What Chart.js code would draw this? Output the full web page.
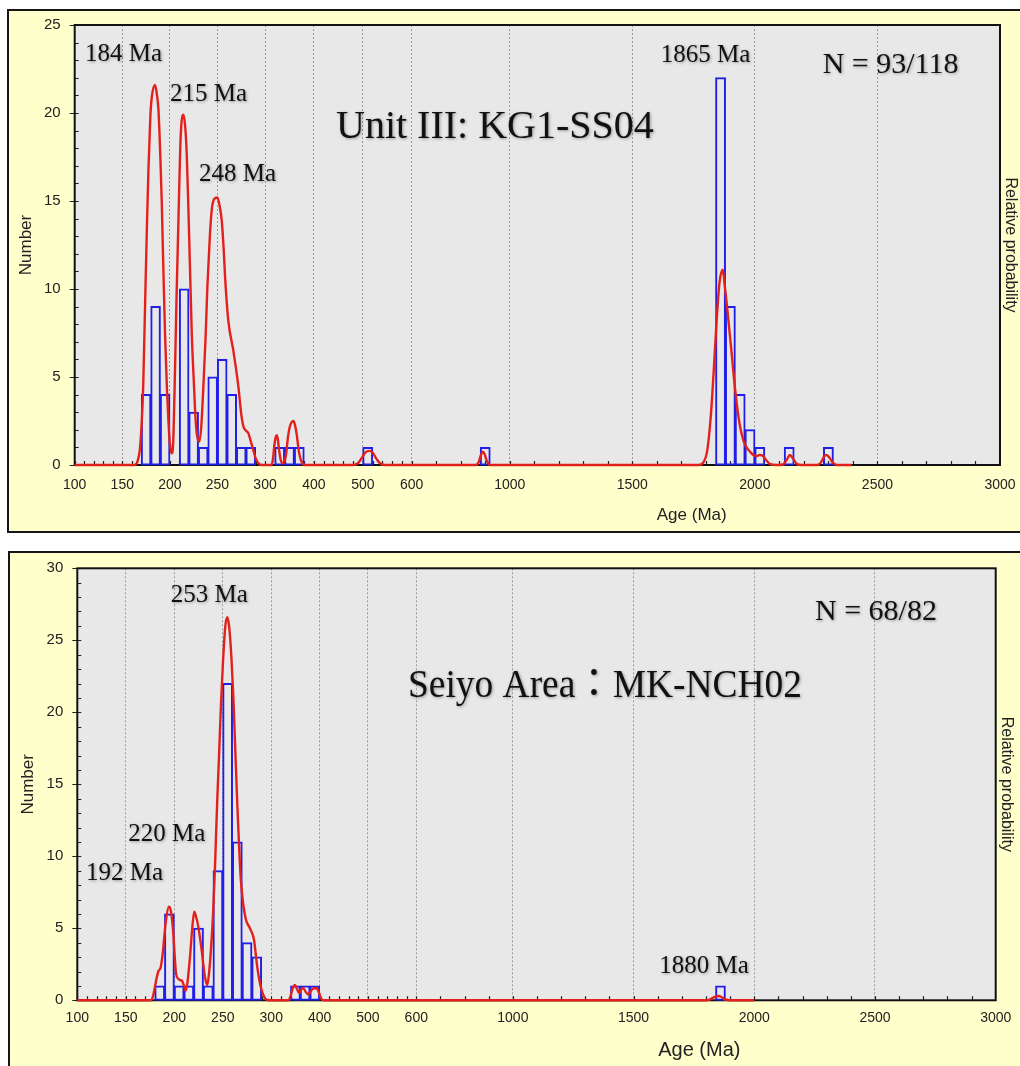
<!DOCTYPE html>
<html>
<head>
<meta charset="utf-8">
<title>Detrital zircon age spectra</title>
<script src="https://cdn.jsdelivr.net/npm/chart.js@4.4.1/dist/chart.umd.min.js"></script>
<style>
body { margin: 0; width: 1020px; height: 1066px; overflow: hidden; background: #fff; position: relative; }
.frame { position: absolute; box-sizing: border-box; border: 2px solid #161616; background: #ffffcc; }
canvas { position: absolute; left: 0; }
</style>
</head>
<body>
<div class="frame" style="left:7px; top:9px; width:1040px; height:524px"></div>
<div class="frame" style="left:8px; top:551px; width:1040px; height:540px"></div>
<canvas id="chartTop" width="1020" height="545" style="top:0"></canvas>
<canvas id="chartBottom" width="1020" height="516" style="top:550px"></canvas>
<script>
// age axis is stretched piecewise: 100-300, 300-600, 600-3000
const ageKnots = [100, 300, 600, 3000];
const binWidth = [10, 20, 40];
const minorStep = [10, 20, 100];
const majorAges = [100, 150, 200, 250, 300, 400, 500, 600, 1000, 1500, 2000, 2500, 3000];

// Unit III: KG1-SS04  (histogram bins = lower edge of bin)
const topBinAge   = [170, 180, 190, 210, 220, 230, 240, 250, 260, 270, 280, 320, 340, 360, 500, 880, 1840, 1880, 1920, 1960, 2000, 2120, 2280];
const topBinCount = [4, 9, 4, 10, 3, 1, 5, 6, 4, 1, 1, 1, 1, 1, 1, 1, 22, 9, 4, 2, 1, 1, 1];
const topCurveAge = [100, 163, 166, 168.5, 170.5, 172, 174, 176, 177.5, 179.5, 181, 184.4, 186.5, 188, 190, 191.5, 193, 195, 197, 198.5,
  200, 202, 203.5, 205.4, 207, 209, 211.4, 214.2, 216, 217.7, 219.5, 221.2, 223, 225.4, 227, 228.5, 231, 233, 235.2, 237.5,
  239.4, 242, 244, 246.5, 249.9, 252, 254.5, 256.5, 258, 261.4, 266.7, 272, 275, 277.2, 280, 282.5, 285, 287.7, 290, 293,
  297, 313, 316, 319, 322, 324, 326, 329, 332, 336, 339, 343, 347, 351, 357.9, 361, 365, 369, 373, 378,
  382, 480, 490, 498, 505, 513, 520, 528, 535, 545, 860, 873, 882, 890, 898, 906, 915, 925, 1770, 1790,
  1803.6, 1814, 1824, 1834, 1844, 1856, 1869, 1877, 1885, 1895, 1905.6, 1915, 1926, 1938, 1953, 1966, 1980, 1995, 2008, 2020,
  2030, 2045, 2062, 2090, 2115, 2130, 2143, 2156, 2172, 2190, 2255, 2270, 2283, 2293, 2305, 2320, 2335, 2395];
const topCurveProb = [0, 0, 0.2, 0.9, 2.5, 4.5, 9.2, 13.8, 16.8, 19.8, 20.9, 21.6, 21.0, 20.2, 17.5, 14.9, 11.5, 7.3, 4.2, 2.5,
  1.2, 0.66, 1.3, 5.4, 9.5, 13.9, 18.7, 19.9, 19.3, 17.7, 14.5, 11.1, 7.5, 4.45, 2.6, 1.7, 1.33, 2.2, 4.45, 7.2,
  10.1, 13, 14.5, 15.1, 15.2, 14.8, 13.9, 12.3, 10.7, 8.2, 6.5, 4.45, 2.9, 2.2, 1.95, 1.8, 1.35, 0.85, 0.4, 0.1,
  0, 0, 0.3, 1.1, 1.6, 1.7, 1.5, 0.8, 0.3, 0.1, 0.15, 0.6, 1.6, 2.2, 2.5, 2.3, 1.7, 0.8, 0.3, 0.05,
  0, 0, 0.1, 0.4, 0.7, 0.8, 0.7, 0.35, 0.1, 0, 0, 0.15, 0.55, 0.75, 0.6, 0.25, 0.05, 0, 0, 0.15,
  0.66, 1.8, 3.5, 5.8, 8.2, 10.4, 11.1, 10.2, 9.2, 7.8, 6.3, 4.9, 3.5, 2.3, 1.4, 1.0, 0.76, 0.55, 0.5, 0.57,
  0.55, 0.3, 0.05, 0, 0.03, 0.3, 0.57, 0.35, 0.05, 0, 0, 0.15, 0.5, 0.57, 0.4, 0.1, 0, 0];

// Seiyo Area: MK-NCH02
const botBinAge   = [180, 190, 200, 210, 220, 230, 240, 250, 260, 270, 280, 340, 360, 380, 1840];
const botBinCount = [1, 6, 1, 1, 5, 1, 9, 22, 11, 4, 3, 1, 1, 1, 1];
const botCurveAge = [100, 176, 178.5, 180.1, 182, 183.5, 186, 188, 189.4, 191.5, 194.5, 196.5, 199, 200.5, 201.8, 204, 206, 208, 210, 211.7,
  213.5, 216.2, 218.5, 220.6, 222.5, 224.8, 228.2, 231.6, 234, 236, 237.8, 240, 242, 244.3, 246, 248, 250, 252.5, 254.6, 256.5,
  259, 261, 263, 265, 267, 268.5, 270.5, 273.9, 278, 282.2, 284, 285.6, 288, 290.1, 293, 296, 300, 335, 340, 344,
  348.9, 353, 357.8, 362, 366, 371, 376.3, 380, 386, 393.6, 399, 403, 408, 1800, 1815, 1830, 1845, 1853, 1862, 1875,
  1890, 1900, 2000];
const botCurveProb = [0, 0, 0.4, 0.95, 1.6, 2.0, 2.3, 3.2, 4.2, 5.6, 6.5, 6.2, 4.65, 3.0, 1.87, 1.5, 1.4, 1.35, 1.0, 0.67,
  1.2, 3.0, 5.0, 6.15, 5.8, 5.1, 3.5, 1.64, 1.06, 2.0, 3.5, 6.0, 9.3, 13.9, 16.7, 20.3, 23.2, 25.9, 26.6, 26.0,
  23.7, 20.9, 17.2, 13.6, 10.4, 8.5, 7.0, 5.6, 5.0, 4.2, 3.2, 2.3, 1.3, 0.7, 0.2, 0.02, 0, 0, 0.3, 0.8,
  1.06, 0.8, 0.5, 0.75, 0.85, 0.6, 0.4, 0.55, 0.8, 0.85, 0.5, 0.15, 0, 0, 0.05, 0.18, 0.28, 0.3, 0.25, 0.1,
  0.02, 0, 0];

Chart.defaults.font.family = "'Liberation Sans', Arial, sans-serif";
Chart.defaults.color = '#222';

function ageToDecimal(v, knots, fracs) {
  let i = 0;
  while (i < knots.length - 2 && v > knots[i + 1]) i++;
  return fracs[i] + (v - knots[i]) / (knots[i + 1] - knots[i]) * (fracs[i + 1] - fracs[i]);
}
function decimalToAge(d, knots, fracs) {
  let i = 0;
  while (i < fracs.length - 2 && d > fracs[i + 1]) i++;
  return knots[i] + (d - fracs[i]) / (fracs[i + 1] - fracs[i]) * (knots[i + 1] - knots[i]);
}

// linear scale, but each knot interval gets its own share of the width
class AgeScale extends Chart.LinearScale {
  static id = 'age';
  static defaults = {};
  buildTicks() {
    return this.options.majors.map(v => ({value: v}));
  }
  getPixelForValue(value) {
    return this.getPixelForDecimal(ageToDecimal(value, this.options.knots, this.options.fracs));
  }
  getValueForPixel(pixel) {
    return decimalToAge(this.getDecimalForPixel(pixel), this.options.knots, this.options.fracs);
  }
}
Chart.register(AgeScale);

function buildBins(ages, counts) {
  const bins = [];
  for (let s = 0; s < ageKnots.length - 1; s++) {
    for (let a = ageKnots[s]; a < ageKnots[s + 1]; a += binWidth[s]) {
      const k = ages.indexOf(a);
      bins.push({x: a + binWidth[s] / 2, y: k >= 0 ? counts[k] : null});
    }
  }
  return bins;
}

function panelDecor(notes, xTitle) {
  return {
    id: 'panelDecor',
    beforeDraw(chart) {
      const {ctx, chartArea: a} = chart;
      ctx.save();
      ctx.fillStyle = '#e8e8e8';
      ctx.fillRect(a.left, a.top, a.right - a.left, a.bottom - a.top);
      ctx.restore();
    },
    beforeDatasetsDraw(chart) {
      const {ctx, chartArea: a, scales} = chart;
      const x = scales.x, y = scales.y;
      ctx.save();
      ctx.strokeStyle = '#222';
      ctx.lineWidth = 1.2;
      ctx.beginPath();
      for (let s = 0; s < ageKnots.length - 1; s++) {
        for (let v = ageKnots[s]; v < ageKnots[s + 1]; v += minorStep[s]) {
          const px = Math.round(x.getPixelForValue(v)) + 0.5;
          ctx.moveTo(px, a.bottom);
          ctx.lineTo(px, a.bottom - 4);
        }
      }
      for (let v = y.min; v <= y.max; v++) {
        const py = Math.round(y.getPixelForValue(v)) + 0.5;
        ctx.moveTo(a.left - (v % 5 === 0 ? 5 : 0), py);
        ctx.lineTo(a.left + 4, py);
      }
      ctx.stroke();
      ctx.strokeStyle = '#111';
      ctx.lineWidth = 2;
      ctx.strokeRect(a.left, a.top, a.right - a.left, a.bottom - a.top);
      ctx.restore();
    },
    afterDraw(chart) {
      const {ctx, chartArea: a} = chart;
      ctx.save();
      ctx.fillStyle = '#111';
      ctx.shadowColor = 'rgba(0,0,0,0.35)';
      ctx.shadowBlur = 3;
      ctx.shadowOffsetX = 1;
      ctx.shadowOffsetY = 1;
      notes.forEach(n => {
        ctx.font = n.size + "px 'Liberation Serif', 'Noto Sans CJK JP', serif";
        const w = ctx.measureText(n.text).width;
        ctx.save();
        ctx.translate(a.left + n.dx, a.top + n.dy);
        if (n.fit) ctx.scale(n.fit / w, 1);
        ctx.fillText(n.text, 0, 0);
        ctx.restore();
      });
      ctx.restore();
      ctx.save();
      ctx.fillStyle = '#222';
      ctx.font = xTitle.size + "px 'Liberation Sans', Arial, sans-serif";
      ctx.textAlign = 'center';
      ctx.textBaseline = 'middle';
      ctx.fillText('Age (Ma)', a.left + xTitle.dx, a.bottom + xTitle.dy);
      ctx.restore();
    }
  };
}

function noEdgePadding(s) {
  s.paddingLeft = 0; s.paddingRight = 0; s.paddingTop = 0; s.paddingBottom = 0;
}

function makePanel(id, p) {
  return new Chart(document.getElementById(id), {
    type: 'line',
    data: {
      datasets: [{
        label: 'Relative probability',
        data: p.curveAge.map((a, i) => ({x: a, y: p.curveProb[i]})),
        yAxisID: 'y2',
        borderColor: '#e3211c',
        borderWidth: 2.4,
        pointRadius: 0,
        cubicInterpolationMode: 'monotone',
        clip: false
      }, {
        type: 'bar',
        label: 'Number',
        data: buildBins(p.binAge, p.binCount),
        yAxisID: 'y',
        backgroundColor: 'rgba(0,0,0,0)',
        borderColor: '#1f1fe8',
        borderWidth: 1,
        inflateAmount: 0.5,
        borderSkipped: false,
        barThickness: 'flex',
        barPercentage: 1,
        categoryPercentage: 1,
        clip: false
      }]
    },
    options: {
      responsive: false,
      animation: false,
      devicePixelRatio: 1,
      events: [],
      layout: {padding: {left: 0, right: p.padRight, top: p.padTop, bottom: 0}},
      plugins: {legend: {display: false}, tooltip: {enabled: false}},
      scales: {
        x: {
          type: 'age', min: 100, max: 3000,
          knots: ageKnots, fracs: p.fracs, majors: majorAges,
          offset: false,
          grid: {offset: false, drawTicks: false, lineWidth: 1,
            color: c => (c.tick && (c.tick.value === 100 || c.tick.value === 3000)) ? 'rgba(0,0,0,0)' : '#9a9a9a'},
          border: {display: false, dash: [2, 2]},
          ticks: {autoSkip: false, maxRotation: 0, padding: p.xTickPad, font: {size: 14},
            callback: v => String(v)},
          afterFit: s => { s.height = p.xHeight; noEdgePadding(s); }
        },
        y: {
          position: 'left', min: 0, max: p.yMax,
          grid: {display: false, drawTicks: false},
          border: {display: false},
          ticks: {stepSize: 5, padding: 14, font: {size: 15}},
          title: {display: true, text: 'Number', font: {size: 17}, padding: {top: p.yTitlePad, bottom: 0}},
          afterFit: s => { s.width = p.yWidth; noEdgePadding(s); }
        },
        y2: {
          position: 'right', min: 0, max: p.yMax,
          grid: {display: false, drawTicks: false},
          border: {display: false},
          ticks: {display: false},
          title: {display: true, text: 'Relative probability', font: {size: 16}, padding: {top: 0, bottom: 0}},
          afterFit: s => { s.width = p.y2Width; noEdgePadding(s); }
        }
      }
    },
    plugins: [panelDecor(p.notes, p.xTitle)]
  });
}

makePanel('chartTop', {
  binAge: topBinAge, binCount: topBinCount, curveAge: topCurveAge, curveProb: topCurveProb,
  yMax: 25, fracs: [0, 0.2057, 0.3642, 1],
  padTop: 25, padRight: 0, xHeight: 80, yWidth: 74.7, y2Width: 20,
  xTickPad: 11.6, yTitlePad: 15.8,
  xTitle: {size: 17, dx: 617, dy: 50},
  notes: [
    {text: '184 Ma', size: 25, dx: 10.3, dy: 36},
    {text: '215 Ma', size: 25, dx: 95.3, dy: 75.7},
    {text: '248 Ma', size: 25, dx: 124.3, dy: 155.7},
    {text: 'Unit III: KG1-SS04', size: 40, dx: 261.3, dy: 113.3},
    {text: '1865 Ma', size: 25, dx: 586, dy: 36.7},
    {text: 'N = 93/118', size: 30, dx: 748, dy: 48.3}
  ]
});

makePanel('chartBottom', {
  binAge: botBinAge, binCount: botBinCount, curveAge: botCurveAge, curveProb: botCurveProb,
  yMax: 30, fracs: [0, 0.2112, 0.3691, 1],
  padTop: 18.3, padRight: 4, xHeight: 65.7, yWidth: 77.3, y2Width: 20.3,
  xTickPad: 9.6, yTitlePad: 17.8,
  xTitle: {size: 20, dx: 622, dy: 49.7},
  notes: [
    {text: '253 Ma', size: 25, dx: 93.4, dy: 34},
    {text: '220 Ma', size: 25, dx: 51, dy: 272.7},
    {text: '192 Ma', size: 25, dx: 8.7, dy: 311.7},
    {text: '1880 Ma', size: 25, dx: 582, dy: 405},
    {text: 'N = 68/82', size: 30, dx: 737.7, dy: 51.7},
    {text: 'Seiyo Area\uFF1AMK-NCH02', size: 40, dx: 330.7, dy: 128.4, fit: 394}
  ]
});
</script>
</body>
</html>
